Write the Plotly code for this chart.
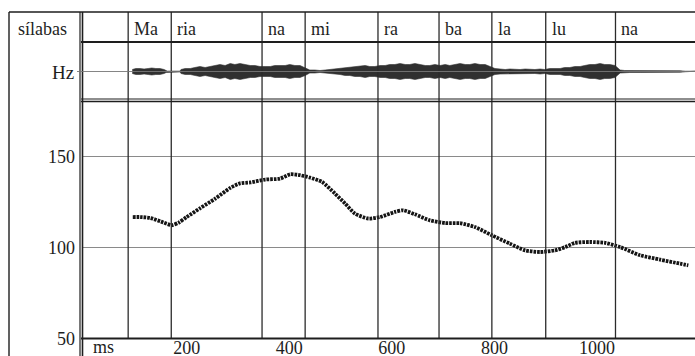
import plotly.graph_objects as go

W, H = 695, 356

# ---------------- data ----------------
syllables = ["Ma", "ria", "na", "mi", "ra", "ba", "la", "lu", "na"]
syllable_start_ms = [86, 170, 347, 431, 573, 692, 795, 900, 1036]

pitch_ms = [95, 110, 129, 150, 171, 185, 200, 226, 255, 285, 304, 324, 353, 382,
            402, 421, 440, 464, 489, 509, 528, 554, 577, 606, 622, 645, 674, 704,
            733, 762, 795, 830, 860, 889, 918, 938, 957, 986, 1016, 1045, 1084,
            1123, 1162, 1178]
pitch_hz = [117, 117, 116.5, 114.5, 112.5, 114, 117, 121.8, 127, 133, 135.5, 136,
            137.6, 138.1, 140.5, 140, 138.7, 136.3, 129.9, 124.4, 118.9, 116.2, 117,
            119.8, 120.7, 118.5, 115.2, 113.7, 113.6, 111.5, 107, 102.4, 98.7, 97.8,
            98.7, 100.5, 102.8, 103.3, 102.8, 100.5, 96, 93.6, 91.4, 90.5]

wave_ms = [94, 101, 109, 117, 125, 132, 140, 148, 156, 160, 162, 187, 189, 197,
           207, 216, 226, 236, 246, 255, 265, 275, 285, 294, 304, 314, 324, 333,
           343, 353, 363, 372, 382, 392, 401, 411, 421, 431, 440, 450, 460, 470,
           479, 489, 499, 509, 518, 528, 538, 548, 557, 567, 577, 587, 596, 606,
           616, 626, 635, 645, 655, 665, 674, 684, 694, 704, 713, 723, 733, 743,
           752, 762, 772, 782, 791, 801, 811, 821, 830, 840, 850, 860, 869, 879,
           889, 898, 908, 918, 928, 937, 947, 957, 967, 976, 986, 996, 1006, 1015,
           1025, 1035, 1045, 1054, 1064, 1084, 1103, 1123, 1142, 1162, 1172, 1191]
wave_amp = [2, 3, 3, 2.5, 3, 3.5, 3, 3, 2, 1, 0.4, 0.4, 2, 3,
            3, 4, 5, 4, 5, 6, 7, 6, 8, 7, 8, 7, 6, 6,
            5, 5, 5, 6, 6, 6, 7, 6, 6, 4, 1.5, 1.5, 1, 1.5,
            2, 2.5, 3, 4, 4, 5, 5, 6, 5, 5, 6, 6, 7, 7,
            8, 7, 7, 8, 7, 6, 6, 7, 6, 7, 6, 7, 8, 7,
            7, 8, 7, 7, 5, 3, 2.5, 2, 2.5, 2, 2, 2.5, 2, 2,
            2.5, 2, 3, 3, 3, 4, 4, 5, 5, 6, 7, 7, 8, 7,
            7, 6, 1.5, 1, 1, 1, 1.2, 1, 1, 0.8, 0.3, 0.3]

x_ticks = [200, 400, 600, 800, 1000]
y_ticks = [50, 100, 150]

# ---------------- helpers (layout positions in pixels) ----------------
def px_x(p):
    return p / W

def px_y(p):
    return 1 - p / H

FONT = "Liberation Serif, Times New Roman, serif"
INK = "#1e1e1e"

fig = go.Figure()

# waveform envelope
fig.add_trace(go.Scatter(
    x=wave_ms + wave_ms[::-1],
    y=wave_amp + [-a for a in wave_amp[::-1]],
    fill="toself", fillcolor="#303030", mode="lines",
    line=dict(color="#303030", width=0.6),
    xaxis="x", yaxis="y2", hoverinfo="skip", showlegend=False))

# pitch contour
fig.add_trace(go.Scatter(
    x=pitch_ms, y=pitch_hz, mode="lines",
    line=dict(color="#151515", width=3.8, dash="2.6px,1px", shape="spline", smoothing=0.6),
    xaxis="x", yaxis="y", showlegend=False))

shapes = []
# syllable boundaries
for ms in syllable_start_ms:
    shapes.append(dict(type="line", xref="x", yref="paper", x0=ms, x1=ms,
                       y0=px_y(339), y1=px_y(12), line=dict(color="#2b2b2b", width=1.3)))

def hline(ypix, x0pix, x1pix, w, c=INK):
    shapes.append(dict(type="line", xref="paper", yref="paper",
                       x0=px_x(x0pix), x1=px_x(x1pix), y0=px_y(ypix), y1=px_y(ypix),
                       line=dict(color=c, width=w)))

def vline(xpix, y0pix, y1pix, w, c=INK):
    shapes.append(dict(type="line", xref="paper", yref="paper",
                       x0=px_x(xpix), x1=px_x(xpix), y0=px_y(y0pix), y1=px_y(y1pix),
                       line=dict(color=c, width=w)))

vline(9, 12, 356, 1.4)          # outer frame left
hline(12, 9, 695, 1.4)          # outer frame top
vline(80, 12, 356, 1.2)         # inner double border
vline(82.5, 12, 356, 1.6)
hline(42, 81, 695, 2.0)         # under syllables
hline(71.5, 77, 695, 0.9, "#777777")  # Hz baseline
hline(99, 81, 695, 1.2)         # under waveform (double)
hline(101.5, 81, 695, 1.6)
hline(338.5, 81, 695, 2.2)      # bottom axis line

annotations = []
for s, ms in zip(syllables, syllable_start_ms):
    annotations.append(dict(text=s, x=ms, xref="x", y=px_y(29), yref="paper",
                            xanchor="left", yanchor="middle", xshift=4, showarrow=False,
                            font=dict(family=FONT, size=18, color=INK)))
annotations.append(dict(text="sílabas", x=px_x(16), y=px_y(29), xref="paper", yref="paper",
                        xanchor="left", yanchor="middle", showarrow=False,
                        font=dict(family=FONT, size=18, color=INK)))
annotations.append(dict(text="Hz", x=px_x(76), y=px_y(72), xref="paper", yref="paper",
                        xanchor="right", yanchor="middle", showarrow=False,
                        font=dict(family=FONT, size=19, color=INK)))
annotations.append(dict(text="ms", x=px_x(91), y=px_y(347), xref="paper", yref="paper",
                        xanchor="left", yanchor="middle", showarrow=False,
                        font=dict(family=FONT, size=18, color=INK)))

fig.update_layout(
    width=W, height=H,
    margin=dict(l=0, r=0, t=0, b=0, pad=0, autoexpand=False),
    paper_bgcolor="white", plot_bgcolor="rgba(0,0,0,0)",
    showlegend=False,
    xaxis=dict(domain=[px_x(82), 1], range=[-4, 1191], tickvals=x_ticks,
               ticks="", showgrid=False, zeroline=False, showline=False,
               tickfont=dict(family=FONT, size=18, color=INK),
               anchor="free", position=px_y(335),
               ticklabelstandoff=0, automargin=False),
    yaxis=dict(domain=[px_y(339), px_y(100)], range=[50, 181.3], tickvals=y_ticks,
               ticks="", showgrid=True, gridcolor="#8a8a8a", gridwidth=1,
               zeroline=False, showline=False,
               tickfont=dict(family=FONT, size=18, color=INK), anchor="x",
               ticklabelstandoff=6, automargin=False),
    yaxis2=dict(domain=[px_y(100), px_y(43)], range=[-28.5, 28.5], showticklabels=False,
                showgrid=False, zeroline=False, showline=False, anchor="x",
                automargin=False),
    shapes=shapes,
    annotations=annotations,
)

fig.write_html("out.html", config={"responsive": False, "displayModeBar": False},
               post_script="document.body.style.margin='0';document.body.style.overflow='hidden';")
